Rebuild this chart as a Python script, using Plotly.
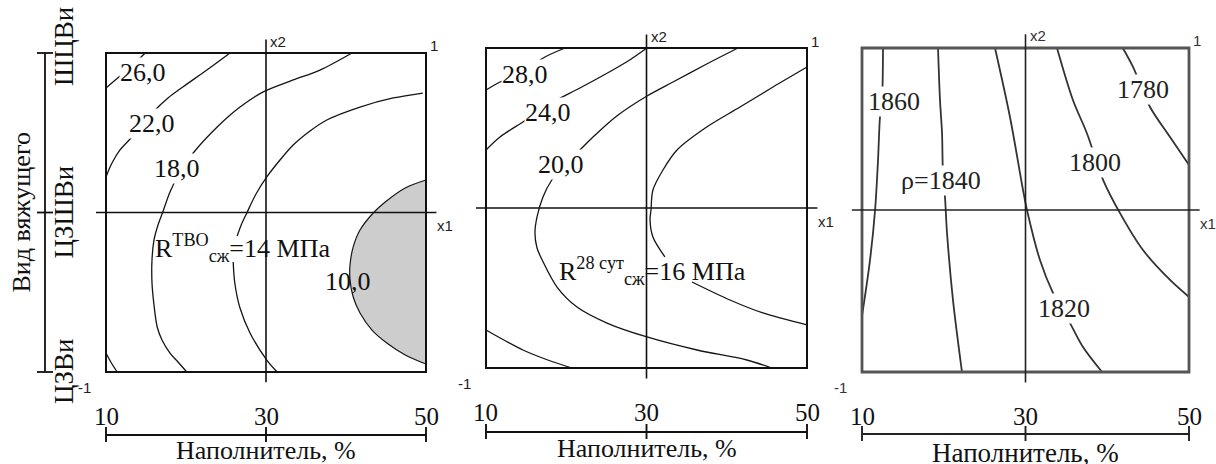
import plotly.graph_objects as go

W, H = 1216, 464

# ---- scales -------------------------------------------------------------
filler_ticks = [10, 30, 50]                 # filler content, %
binder_codes = [-1, 0, 1]                   # coded binder factor x2
binder_names = ["ЦЗВи", "ЦЗШВи", "ШЦВи"]

# ---- panel 1: compressive strength after heat-moisture curing, MPa -------
tvo_26_x = [10.0, 11.75, 13.0, 14.0, 14.9]
tvo_26_y = [0.78, 0.856, 0.906, 0.956, 1.0]
tvo_22_x = [10.0, 10.75, 11.75, 13.25, 14.6, 15.9, 17.75, 19.6, 22.6, 25.5]
tvo_22_y = [0.223, 0.31, 0.392, 0.473, 0.549, 0.63, 0.718, 0.787, 0.893, 1.0]
tvo_22b_x = [10.0, 10.6, 11.4]
tvo_22b_y = [-0.881, -0.937, -1.0]
tvo_18_x = [20.1, 19.0, 18.0, 17.0, 16.4, 16.0, 15.75, 15.75, 16.0, 16.5, 17.1,
            18.0, 19.25, 20.9, 23.9, 26.75, 29.6, 33.4, 36.75, 40.75]
tvo_18_y = [-1.0, -0.937, -0.881, -0.799, -0.718, -0.58, -0.442, -0.298, -0.172,
            -0.078, 0.003, 0.129, 0.254, 0.373, 0.536, 0.661, 0.755, 0.831, 0.893, 1.0]
tvo_14_x = [31.4, 30.1, 28.0, 26.75, 26.1, 25.9, None, 26.4, 26.9, 27.6, 28.75,
            30.1, 31.75, 33.4, 35.5, 37.6, 41.75, 45.9, 49.6]
tvo_14_y = [-1.0, -0.925, -0.755, -0.599, -0.442, -0.31, None, -0.147, -0.078,
            -0.003, 0.116, 0.223, 0.329, 0.423, 0.511, 0.58, 0.661, 0.718, 0.749]
tvo_10_x = [50.0, 47.4, 44.9, 43.4, 41.75, 40.9, 40.5, 40.5, 40.9, 41.75, 43.25,
            45.1, 47.4, 50.0]
tvo_10_y = [0.204, 0.154, 0.066, -0.003, -0.11, -0.216, -0.329, -0.423, -0.53,
            -0.63, -0.737, -0.818, -0.893, -0.95]
tvo_label_levels = [26.0, 22.0, 18.0, 10.0]
tvo_label_x = [14.6, 15.75, 18.9, 40.25]
tvo_label_y = [0.88, 0.555, 0.273, -0.43]
tvo_title_level = 14

# ---- panel 2: compressive strength at 28 days, MPa -----------------------
d28_28_x = [10.0, 11.5, 13.24, 15.23, 17.35, 19.84]
d28_28_y = [0.7375, 0.781, 0.825, 0.875, 0.944, 1.0]
d28_24_x = [10.0, 11.74, 14.6, 16.5, 18.35, 21.7, 25.8, 27.9, 30.05]
d28_24_y = [0.3625, 0.444, 0.5375, 0.6, 0.6625, 0.75, 0.8625, 0.925, 1.0]
d28_24b_x = [10.0, 12.4, 14.6, 17.7, 20.7]
d28_24b_y = [-0.7625, -0.83, -0.8875, -0.95, -1.0]
d28_20_x = [41.4, 37.5, 33.3, 30.06, 26.3, 23.6, 21.7, 19.84, 18.2, 17.1, 16.36,
            16.1, 16.36, 17.0, 18.85, 21.34, 25.08, 30.06, 36.3, 42.5, 45.6]
d28_20_y = [1.0, 0.9, 0.7875, 0.7, 0.575, 0.456, 0.3625, 0.269, 0.175, 0.069,
            -0.056, -0.156, -0.25, -0.325, -0.494, -0.619, -0.719, -0.806, -0.8875,
            -0.95, -1.0]
d28_16_x = [50.0, 45.76, 41.65, 37.5, 33.8, 32.05, 30.8, 30.56, 30.44, 30.8, 32.3,
            None, 35.67, 40.4, 44.5, 50.0]
d28_16_y = [0.881, 0.756, 0.631, 0.506, 0.3625, 0.2375, 0.1125, -0.0125, -0.075,
            -0.181, -0.306, None, -0.4625, -0.575, -0.656, -0.731]
d28_label_levels = [28.0, 24.0, 20.0]
d28_label_x = [14.86, 17.7, 19.35]
d28_label_y = [0.8375, 0.6, 0.269]
d28_title_level = 16

# ---- panel 3: density, kg/m3 ---------------------------------------------
rho_1860_x = [12.57, 12.45, 12.2, 11.96, 11.6, 10.98, 10.0]
rho_1860_y = [1.0, 0.679, 0.574, 0.309, 0.0, -0.309, -0.654]
rho_1840_x = [19.3, 19.54, 19.79, 19.9, 20.15, 20.4, 21.13, 22.23]
rho_1840_y = [1.0, 0.679, 0.475, 0.228, 0.08, -0.142, -0.556, -1.0]
rho_1820_x = [26.27, 28.1, 29.7, 30.18, 31.77, 33.36, 35.44, 37.03, 39.36]
rho_1820_y = [1.0, 0.574, 0.123, 0.0, -0.309, -0.512, -0.698, -0.846, -1.0]
rho_1800_x = [33.85, 35.8, 37.5, 39.5, 41.56, 44.37, 47.68, 50.0]
rho_1800_y = [1.0, 0.679, 0.475, 0.185, -0.019, -0.247, -0.432, -0.537]
rho_1780_x = [41.9, 43.15, 45.23, 47.68, 50.0]
rho_1780_y = [1.0, 0.883, 0.636, 0.451, 0.278]
rho_label_levels = [1860, 1840, 1820, 1800, 1780]
rho_label_x = [13.9, 19.66, 34.7, 38.5, 44.37]
rho_label_y = [0.667, 0.185, -0.611, 0.296, 0.741]

# ---- layout helpers -------------------------------------------------------
SERIF = "'Liberation Serif', 'Times New Roman', Times, serif"
SANS = "'Liberation Sans', Arial, sans-serif"
X_RANGE = [7, 53]
Y_RANGE = [-1.15, 1.15]

# pixel frame of each square (left, right, top, bottom)
frames = {"": (106, 426, 53, 372), "2": (486, 807, 48, 368), "3": (862, 1189, 48, 372)}


def domains(left, right, top, bottom):
    sx = (right - left) / 40.0
    sy = (bottom - top) / 2.0
    x0, x1 = left - 3 * sx, right + 3 * sx
    yt, yb = top - 0.15 * sy, bottom + 0.15 * sy
    return [x0 / W, x1 / W], [1 - yb / H, 1 - yt / H]


fig = go.Figure()
layout = dict(width=W, height=H, margin=dict(l=0, r=0, t=0, b=0),
              paper_bgcolor="white", plot_bgcolor="white", showlegend=False,
              font=dict(family=SERIF, color="#111"))
for key, fr in frames.items():
    xd, yd = domains(*fr)
    layout["xaxis" + key] = dict(domain=xd, range=X_RANGE, visible=False,
                                 anchor="y" + key, fixedrange=True)
    layout["yaxis" + key] = dict(domain=yd, range=Y_RANGE, visible=False,
                                 anchor="x" + key, fixedrange=True)
fig.update_layout(**layout)

shapes, annotations = [], []


def curve(key, xs, ys, color="#151515", width=1.3, **kw):
    fig.add_trace(go.Scatter(x=xs, y=ys, mode="lines", xaxis="x" + key, yaxis="y" + key,
                             line=dict(color=color, width=width, shape="spline",
                                       smoothing=0.9),
                             hoverinfo="skip", showlegend=False, **kw))


def fmt(v):
    return f"{v:.1f}".replace(".", ",")


def label(key, x, y, text, bg=True, size=26, color="#111"):
    ann = dict(x=x, y=y, xref="x" + key, yref="y" + key, text=text,
               showarrow=False, font=dict(family=SERIF, size=size, color=color),
               borderpad=0, xanchor="center", yanchor="middle")
    if bg:
        ann["bgcolor"] = "white"
    annotations.append(ann)


def frame(key, box_color, box_w, cross_color, cross_w, axis_py, tick_py, title_py,
          title_size=26, small_color="#222"):
    xr, yr = "x" + key, "y" + key
    shapes.append(dict(type="rect", xref=xr, yref=yr, x0=10, x1=50, y0=-1, y1=1,
                       line=dict(color=box_color, width=box_w)))
    shapes.append(dict(type="line", xref=xr, yref=yr, x0=8.75, x1=51.3, y0=0, y1=0,
                       line=dict(color=cross_color, width=cross_w)))
    shapes.append(dict(type="line", xref=xr, yref=yr, x0=30, x1=30, y0=-1.065, y1=1.085,
                       line=dict(color=cross_color, width=cross_w)))
    # filler scale under the square
    ya = 1 - axis_py / H
    shapes.append(dict(type="line", xref=xr, yref="paper", x0=10, x1=50, y0=ya, y1=ya,
                       line=dict(color=cross_color, width=cross_w + 0.3)))
    for t in filler_ticks:
        shapes.append(dict(type="line", xref=xr, yref="paper", x0=t, x1=t,
                           y0=1 - (axis_py - 8) / H, y1=1 - (axis_py + 7) / H,
                           line=dict(color=cross_color, width=cross_w + 0.3)))
        annotations.append(dict(x=t, y=1 - tick_py / H, xref=xr, yref="paper",
                                text=str(t), showarrow=False,
                                font=dict(family=SERIF, size=25, color="#111"),
                                xanchor="center", yanchor="middle"))
    annotations.append(dict(x=30, y=1 - title_py / H, xref=xr, yref="paper",
                            text="Наполнитель, %", showarrow=False,
                            font=dict(family=SERIF, size=title_size, color="#111"),
                            xanchor="center", yanchor="middle"))
    # coded-factor marks
    small = dict(family=SANS, size=15, color=small_color)
    annotations.append(dict(x=30, y=1.075, xref=xr, yref=yr, text="x2", showarrow=False,
                            font=small, xanchor="left", yanchor="middle", xshift=2))
    annotations.append(dict(x=50, y=1, xref=xr, yref=yr, text="1", showarrow=False,
                            font=small, xanchor="left", yanchor="middle", xshift=2,
                            yshift=7))
    annotations.append(dict(x=50, y=0, xref=xr, yref=yr, text="x1", showarrow=False,
                            font=small, xanchor="left", yanchor="middle", xshift=9,
                            yshift=-13))
    annotations.append(dict(x=10, y=-1, xref=xr, yref=yr, text="-1", showarrow=False,
                            font=small, xanchor="right", yanchor="middle", xshift=-13,
                            yshift=-15))


# ---- panel 1 -------------------------------------------------------------
curve("", tvo_10_x, tvo_10_y, width=1.2, fill="toself", fillcolor="#cdcdcd")
for xs, ys in [(tvo_26_x, tvo_26_y), (tvo_22_x, tvo_22_y), (tvo_22b_x, tvo_22b_y),
               (tvo_18_x, tvo_18_y), (tvo_14_x, tvo_14_y)]:
    curve("", xs, ys)
for lv, lx, ly in zip(tvo_label_levels, tvo_label_x, tvo_label_y):
    label("", lx, ly, fmt(lv), bg=(lv != 10.0))
label("", 27.0, -0.223, f"R<sup>ТВО</sup><sub>сж</sub>={tvo_title_level} МПа", bg=False)
frame("", "#111", 2.0, "#111", 1.6, 435, 416, 450)

# binder scale on the left of panel 1
shapes.append(dict(type="line", xref="paper", yref="y", x0=45 / W, x1=45 / W, y0=-1, y1=1,
                   line=dict(color="#111", width=1.8)))
for c, name in zip(binder_codes, binder_names):
    shapes.append(dict(type="line", xref="paper", yref="y", x0=37 / W, x1=53 / W,
                       y0=c, y1=c, line=dict(color="#111", width=1.8)))
    annotations.append(dict(x=64 / W, y=c, xref="paper", yref="y", text=name,
                            showarrow=False, textangle=-90,
                            yshift=6 if c == 1 else 0,
                            font=dict(family=SERIF, size=27, color="#111"),
                            xanchor="center", yanchor="middle"))
annotations.append(dict(x=22 / W, y=0, xref="paper", yref="y", text="Вид вяжущего",
                        showarrow=False, textangle=-90,
                        font=dict(family=SERIF, size=26, color="#111"),
                        xanchor="center", yanchor="middle"))

# ---- panel 2 -------------------------------------------------------------
for xs, ys in [(d28_28_x, d28_28_y), (d28_24_x, d28_24_y), (d28_24b_x, d28_24b_y),
               (d28_20_x, d28_20_y), (d28_16_x, d28_16_y)]:
    curve("2", xs, ys)
for lv, lx, ly in zip(d28_label_levels, d28_label_x, d28_label_y):
    label("2", lx, ly, fmt(lv))
label("2", 30.75, -0.394, f"R<sup>28 сут</sup><sub>сж</sub>={d28_title_level} МПа", bg=False)
frame("2", "#111", 2.0, "#111", 1.6, 432, 412, 448)

# ---- panel 3 -------------------------------------------------------------
for xs, ys in [(rho_1860_x, rho_1860_y), (rho_1840_x, rho_1840_y),
               (rho_1820_x, rho_1820_y), (rho_1800_x, rho_1800_y),
               (rho_1780_x, rho_1780_y)]:
    curve("3", xs, ys, color="#333", width=1.8)
for lv, lx, ly in zip(rho_label_levels, rho_label_x, rho_label_y):
    label("3", lx, ly, ("ρ=" if lv == 1840 else "") + str(lv), color="#222")
frame("3", "#555", 2.8, "#222", 1.6, 434, 416, 453, title_size=27, small_color="#333")

fig.update_layout(shapes=shapes, annotations=annotations)
fig.write_html("out.html")
